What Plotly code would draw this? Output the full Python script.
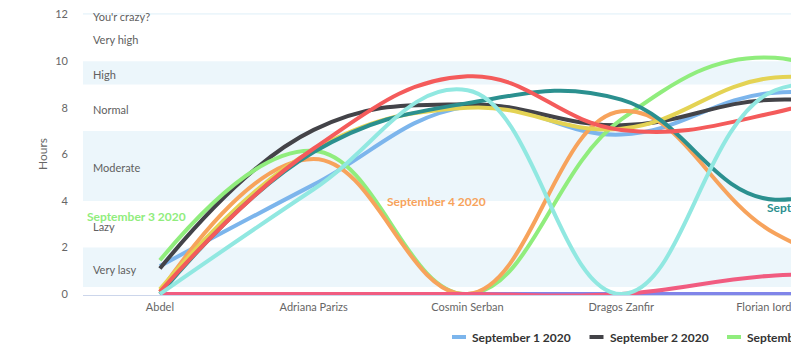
import plotly.graph_objects as go

# ---------------- data ----------------
categories = ["Abdel", "Adriana Parizs", "Cosmin Serban", "Dragos Zanfir", "Florian Iordache"]
# the chart continues past the right edge of the picture; the last value of each
# series is an estimate of the next (unseen) point, read from the curve direction
series_names = [f"September {d} 2020" for d in range(1, 11)]
sep1 = [1.2, 4.7, 8.05, 6.85, 8.65, 7.8]
sep2 = [1.1, 7.05, 8.15, 7.25, 8.35, 7.6]
sep3 = [1.45, 6.15, 0.0, 7.5, 10.15, 6.5]
sep4 = [0.1, 5.8, 0.0, 7.85, 2.6, 0.3]
sep5 = [0.0, 0.0, 0.0, 0.0, 0.0, 0.0]
sep6 = [0.0, 0.0, 0.0, 0.0, 0.8, 0.75]
sep7 = [0.2, 6.2, 8.0, 7.1, 9.3, 8.3]
sep8 = [0.0, 6.1, 8.2, 8.35, 4.05, 7.5]
sep9 = [0.1, 6.25, 9.35, 7.05, 7.8, 10.0]
sep10 = [0.0, 4.5, 8.75, 0.0, 8.75, 7.5]
series_values = [sep1, sep2, sep3, sep4, sep5, sep6, sep7, sep8, sep9, sep10]

band_from = [0.3, 2, 4, 7, 9, 10, 12]
band_to = [2, 4, 7, 9, 10, 12, 14]
band_labels = ["Very lasy", "Lazy", "Moderate", "Normal", "High", "Very high", "You'r crazy?"]
band_filled = [True, False, True, False, True, False, True]

y_ticks = [0, 2, 4, 6, 8, 10, 12]

# ---------------- style ----------------
colors = ["#7cb5ec", "#434348", "#90ed7d", "#f7a35c", "#8085e9",
          "#f15c80", "#e4d354", "#2b908f", "#f45b5b", "#91e8e1"]
FONT = "Lato, 'Open Sans', Arial, sans-serif"
W, H = 791, 363
ML, MR, MT, MB = 83, 0, 13, 68
PW = W - ML - MR
PH = H - MT - MB
CAT_W = 153.8
X_RANGE = [-0.5, -0.5 + PW / CAT_W]
Y_RANGE = [-0.04, 12.07]


def px_x(p):
    return (p - ML) / PW


def px_y(p):
    return (MT + PH - p) / PH


fig = go.Figure()
xs = list(range(len(sep1)))
for name, vals, col in zip(series_names, series_values, colors):
    fig.add_trace(go.Scatter(
        x=xs, y=vals, name=name, mode="lines",
        line=dict(color=col, width=4, shape="spline", smoothing=1.2),
        showlegend=False, hoverinfo="skip"))

shapes = []
annotations = []
for f, t, lab, filled in zip(band_from, band_to, band_labels, band_filled):
    if filled:
        shapes.append(dict(type="rect", xref="x", yref="y", x0=-1, x1=10, y0=f, y1=t,
                           fillcolor="rgba(68,170,213,0.1)", line=dict(width=0),
                           layer="below"))
    mid = (f + min(t, 12)) / 2
    annotations.append(dict(x=px_x(91), xref="paper", y=mid, yref="y",
                            text=lab, showarrow=False, xanchor="left", yanchor="middle",
                            yshift=-2,
                            font=dict(family=FONT, size=11, color="#606060")))

# series labels (Highcharts series-label style)
series_label_pos = {2: (-0.487, 3.35), 3: (1.464, 3.96), 7: (3.934, 3.7)}
for idx, (lx, ly) in series_label_pos.items():
    annotations.append(dict(x=lx, y=ly, xref="x", yref="y", text=f"<b>{series_names[idx]}</b>",
                            showarrow=False, xanchor="left", yanchor="middle",
                            font=dict(family=FONT, size=12, color=colors[idx])))

# y axis title
annotations.append(dict(x=px_x(42), y=0.5, xref="paper", yref="paper", text="Hours",
                        textangle=-90, showarrow=False, xanchor="center", yanchor="middle",
                        font=dict(family=FONT, size=12, color="#666666")))

# legend (drawn manually, centred under the full-width chart)
LEG_X0, LEG_STEP, LEG_Y = 452, 137.5, 337
for i, (name, col) in enumerate(zip(series_names, colors)):
    x0 = LEG_X0 + i * LEG_STEP
    shapes.append(dict(type="line", xref="paper", yref="paper",
                       x0=px_x(x0), x1=px_x(x0 + 14), y0=px_y(LEG_Y), y1=px_y(LEG_Y),
                       line=dict(color=col, width=4)))
    annotations.append(dict(x=px_x(x0 + 18), y=px_y(LEG_Y), xref="paper", yref="paper",
                            text=f"<b>{name}</b>", showarrow=False, xanchor="left",
                            yanchor="middle",
                            font=dict(family=FONT, size=12, color="#333333")))

fig.update_layout(
    width=W, height=H,
    margin=dict(l=ML, r=MR, t=MT, b=MB, pad=0, autoexpand=False),
    paper_bgcolor="white", plot_bgcolor="white",
    font=dict(family=FONT, size=11, color="#666666"),
    shapes=shapes, annotations=annotations,
    xaxis=dict(range=X_RANGE, tickvals=list(range(len(categories))), ticktext=categories,
               showgrid=False, zeroline=False, showline=True, linecolor="#ccd6eb",
               linewidth=1, ticks="", ticklabelstandoff=2, ticklabeloverflow="allow",
               automargin=False,
               tickfont=dict(family=FONT, size=11, color="#666666")),
    yaxis=dict(range=Y_RANGE, tickvals=y_ticks, showgrid=False, zeroline=False,
               showline=False, ticks="", ticklabelstandoff=14, automargin=False,
               tickfont=dict(family=FONT, size=11, color="#666666")),
)

fig.write_html("out.html")
